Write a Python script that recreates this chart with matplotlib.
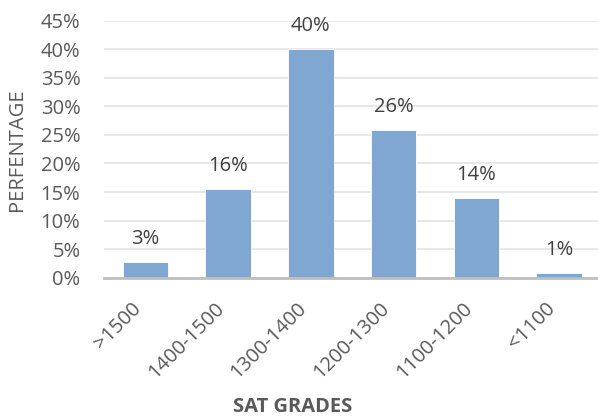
import matplotlib
matplotlib.use("Agg")
import matplotlib.pyplot as plt
from matplotlib.ticker import FuncFormatter

# ── 데이터 ──────────────────────────────────────────
grades = [">1500", "1400-1500", "1300-1400", "1200-1300", "1100-1200", "<1100"]
percent = [2.8, 15.6, 40.0, 25.9, 13.9, 0.8]
y_ticks = [0, 5, 10, 15, 20, 25, 30, 35, 40, 45]

BAR = "#7FA7D1"
TXT = "#595959"

plt.rcParams["font.family"] = ["Open Sans", "DejaVu Sans"]

W, H = 598, 418
fig = plt.figure(figsize=(W / 100, H / 100), dpi=100)
ax = fig.add_axes([104 / W, 140.3 / H, 494 / W, 257 / H])

x = range(len(grades))
ax.bar(x, percent, width=0.55, color=BAR, edgecolor="white", linewidth=0.6, zorder=2)
for xi, v in zip(x, percent):
    ax.annotate(f"{v:.0f}%", (xi, v), xytext=(0, 13), textcoords="offset points",
                ha="center", va="baseline", fontsize=14.5, color="#404040")

ax.set_xlim(-0.5, 5.47)
ax.set_ylim(0, 45)
ax.set_yticks(y_ticks)
ax.yaxis.set_major_formatter(FuncFormatter(lambda v, _: f"{v:.0f}%"))
ax.set_xticks(list(x))
ax.set_xticklabels(grades, rotation=45, ha="right")
ax.tick_params(axis="both", length=0, labelsize=14.5, labelcolor=TXT)
ax.tick_params(axis="x", pad=15)
ax.tick_params(axis="y", pad=17)

ax.grid(axis="y", color="#E3E3E3", lw=1.2, zorder=0)
for s in ("top", "right", "left"):
    ax.spines[s].set_visible(False)
ax.spines["bottom"].set_color("#BFBFBF")
ax.spines["bottom"].set_linewidth(2)
ax.spines["bottom"].set_zorder(3)

# 축 제목 (원본 위치에 맞춤)
fig.text(17 / W, (H - 150) / H, "PERFENTAGE", rotation=90, ha="center", va="center",
         fontsize=14.5, color=TXT)
fig.text(293 / W, 1 / H, "SAT GRADES", ha="center", va="bottom",
         fontsize=14.5, color=TXT, fontweight="bold")

fig.savefig("out.png", dpi=100)
